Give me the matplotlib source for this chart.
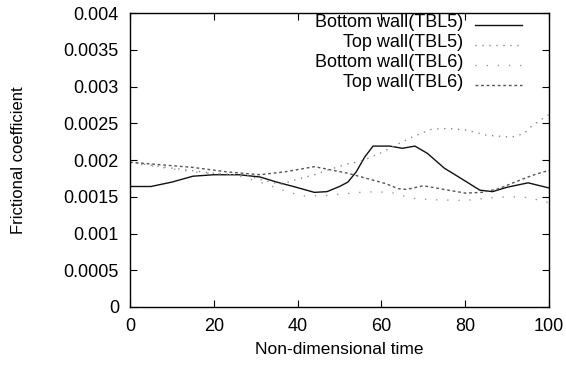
import matplotlib
matplotlib.use("Agg")
import matplotlib.pyplot as plt

plt.rcParams['font.family'] = ['Liberation Sans', 'DejaVu Sans']

# bottom wall, TBL5 (solid)
bot5_t = [0, 5, 10, 15, 20, 26, 31, 35, 39, 44, 47, 50, 52, 54, 56, 58, 62, 65, 68, 71, 75, 79, 83.5, 86.5, 90, 95, 100]
bot5_cf = [1.64, 1.64, 1.70, 1.78, 1.80, 1.80, 1.77, 1.70, 1.64, 1.56, 1.57, 1.64, 1.70, 1.84, 2.04, 2.19, 2.19, 2.16, 2.19, 2.09, 1.89, 1.75, 1.59, 1.57, 1.63, 1.69, 1.62]

# top wall, TBL5
top5_t = [0, 10, 20, 28, 32, 36, 40, 44, 47, 52, 55, 60, 64, 68, 72, 76, 80, 85, 91, 94, 96, 100]
top5_cf = [1.97, 1.89, 1.82, 1.79, 1.72, 1.67, 1.74, 1.80, 1.86, 1.95, 1.98, 2.10, 2.22, 2.33, 2.42, 2.43, 2.41, 2.34, 2.31, 2.36, 2.47, 2.62]

# bottom wall, TBL6
bot6_t = [0, 10, 15, 19, 25, 31, 36, 41, 47, 55, 59, 63, 67, 72, 80, 85, 90, 95, 100]
bot6_cf = [1.96, 1.88, 1.84, 1.82, 1.80, 1.70, 1.60, 1.51, 1.52, 1.56, 1.57, 1.55, 1.48, 1.46, 1.45, 1.48, 1.50, 1.49, 1.42]

# top wall, TBL6
top6_t = [0, 15, 23, 31, 37, 44, 48.5, 52, 56.5, 61, 64, 66, 70, 75, 80, 84, 88, 91, 95, 97, 100]
top6_cf = [1.97, 1.90, 1.84, 1.80, 1.84, 1.91, 1.86, 1.82, 1.75, 1.68, 1.61, 1.60, 1.65, 1.60, 1.55, 1.56, 1.61, 1.68, 1.77, 1.81, 1.86]

labels = ['Bottom wall(TBL5)', 'Top wall(TBL5)', 'Bottom wall(TBL6)', 'Top wall(TBL6)']
xticks = [0, 20, 40, 60, 80, 100]
yticks = [0, 0.0005, 0.001, 0.0015, 0.002, 0.0025, 0.003, 0.0035, 0.004]
ytick_labels = ['0', '0.0005', '0.001', '0.0015', '0.002', '0.0025', '0.003', '0.0035', '0.004']

styles = [
    dict(color='#111111', lw=1.0, ls='-'),
    dict(color='#8a8a8a', lw=1.0, ls=(0, (1, 4))),
    dict(color='#9a9a9a', lw=1.0, ls=(0, (1, 7))),
    dict(color='#555555', lw=1.0, ls=(0, (2, 2))),
]

fig = plt.figure(figsize=(5.66, 3.65), dpi=100)
ax = fig.add_axes([0.2297, 0.159, 0.7403, 0.805])

series = [(bot5_t, bot5_cf), (top5_t, top5_cf), (bot6_t, bot6_cf), (top6_t, top6_cf)]
for (t, cf), st in zip(series, styles):
    ax.plot(t, [v * 1e-3 for v in cf], **st)

ax.set_xlim(0, 100)
ax.set_ylim(0, 0.004)
ax.set_xticks(xticks)
ax.set_yticks(yticks)
ax.set_yticklabels(ytick_labels)
ax.tick_params(direction='in', length=5, width=0.8, top=True, right=True, labelsize=13, pad=8)
for s in ax.spines.values():
    s.set_linewidth(1.0)

ax.set_xlabel('Non-dimensional time', fontsize=12.5, labelpad=5)
ax.set_ylabel('Frictional coefficient', fontsize=12, labelpad=27)

# legend drawn by hand: text right-aligned, sample line on the right
row_y = [0.969, 0.901, 0.833, 0.765]
for lab, st, yy in zip(labels, styles, row_y):
    ax.text(0.795, yy, lab, transform=ax.transAxes, ha='right', va='center', fontsize=13)
    ax.plot([0.823, 0.936], [yy - 0.008, yy - 0.008], transform=ax.transAxes, **st)

fig.savefig('out.png', dpi=100)
